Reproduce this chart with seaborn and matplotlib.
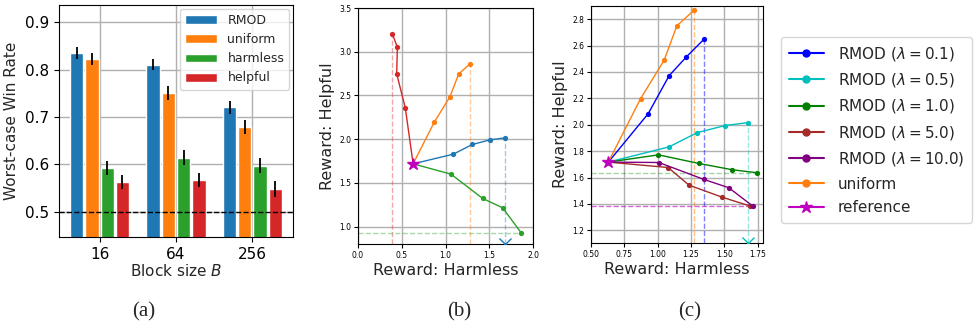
import numpy as np
import pandas as pd
import matplotlib
matplotlib.use('Agg')
import matplotlib.pyplot as plt
import seaborn as sns

# ---- panel (a): worst-case win rate per block size ----
block_sizes = ['16', '64', '256']
methods = ['RMOD', 'uniform', 'harmless', 'helpful']
win_rate = {
    'RMOD':     [0.835, 0.810, 0.720],
    'uniform':  [0.822, 0.751, 0.679],
    'harmless': [0.593, 0.614, 0.597],
    'helpful':  [0.563, 0.567, 0.548],
}
win_err = {
    'RMOD':     [0.012, 0.012, 0.014],
    'uniform':  [0.012, 0.015, 0.014],
    'harmless': [0.015, 0.016, 0.016],
    'helpful':  [0.015, 0.015, 0.016],
}

# ---- panel (b): reward trade-off per weighting ----
ref_harmless = 0.63
ref_helpful = 1.717
b_helpful_x = [0.541, 0.442, 0.450, 0.392]
b_helpful_y = [2.355, 2.748, 3.050, 3.206]
b_uniform_x = [0.872, 1.051, 1.150, 1.280]
b_uniform_y = [2.195, 2.485, 2.744, 2.862]
b_rmod_x = [1.090, 1.307, 1.512, 1.684]
b_rmod_y = [1.828, 1.939, 1.992, 2.015]
b_harmless_x = [1.063, 1.425, 1.653, 1.863]
b_harmless_y = [1.599, 1.321, 1.214, 0.931]

# ---- panel (c): RMOD with different lambda ----
c_uniform_x = [0.872, 1.049, 1.144, 1.273]
c_uniform_y = [2.198, 2.490, 2.750, 2.868]
c_l01_x = [0.929, 1.086, 1.216, 1.348]
c_l01_y = [2.084, 2.372, 2.515, 2.649]
c_l05_x = [1.084, 1.298, 1.505, 1.675]
c_l05_y = [1.832, 1.941, 1.994, 2.016]
c_l1_x = [1.006, 1.308, 1.560, 1.748]
c_l1_y = [1.772, 1.707, 1.659, 1.636]
c_l5_x = [1.079, 1.234, 1.481, 1.693]
c_l5_y = [1.676, 1.543, 1.452, 1.384]
c_l10_x = [1.009, 1.346, 1.533, 1.713]
c_l10_y = [1.714, 1.586, 1.523, 1.384]

sns.set_style('ticks', {'axes.edgecolor': 'black', 'xtick.color': 'black',
                        'ytick.color': 'black', 'grid.color': '#b0b0b0'})
plt.rcParams['font.family'] = ['DejaVu Sans']

fig = plt.figure(figsize=(9.8, 3.28), dpi=100)
W, H = 980, 328


def add_ax(x0, y0, x1, y1):
    return fig.add_axes([x0 / W, 1 - y1 / H, (x1 - x0) / W, (y1 - y0) / H])


tab = sns.color_palette('tab10')

# ---------------- (a) ----------------
ax = add_ax(59, 5, 293, 237)
rows = []
for m in methods:
    for b, v in zip(block_sizes, win_rate[m]):
        rows.append({'block': b, 'method': m, 'rate': v})
df_a = pd.DataFrame(rows)
sns.barplot(data=df_a, x='block', y='rate', hue='method', order=block_sizes,
            hue_order=methods, palette=tab[:4], width=0.8, gap=0.13,
            saturation=1, errorbar=None, ax=ax, zorder=2)
offsets = (np.arange(len(methods)) - 1.5) * 0.2
for j, m in enumerate(methods):
    ax.errorbar(np.arange(len(block_sizes)) + offsets[j], win_rate[m],
                yerr=win_err[m], fmt='none', ecolor='black', elinewidth=1.3,
                capsize=0, zorder=3)
ax.axhline(0.5, color='black', linestyle='--', linewidth=1, zorder=3)
ax.set_ylim(0.447, 0.936)
ax.set_xlim(-0.53, 2.53)
ax.set_yticks([0.5, 0.6, 0.7, 0.8, 0.9])
ax.grid(True, linewidth=1, zorder=0)
ax.set_axisbelow(True)
ax.tick_params(labelsize=11)
ax.set_xlabel('Block size $B$', fontsize=11, labelpad=1)
ax.set_ylabel('Worst-case Win Rate', fontsize=11)
ax.legend(loc='upper right', fontsize=9, handlelength=2.6, borderaxespad=0.3)

# ---------------- (b) ----------------
ax = add_ax(358, 8, 533, 244)
ax.set_xlim(0, 2.0)
ax.set_ylim(0.8, 3.5)
lw, ms = 1.0, 3.8
series_b = [(b_helpful_x, b_helpful_y, tab[3]), (b_uniform_x, b_uniform_y, tab[1]),
            (b_rmod_x, b_rmod_y, tab[0]), (b_harmless_x, b_harmless_y, tab[2])]
for xs, ys, col in series_b:
    sns.lineplot(x=[ref_harmless] + xs, y=[ref_helpful] + ys, sort=False,
                 estimator=None, color=col, marker='o', markersize=ms,
                 markeredgewidth=0, linewidth=lw, ax=ax, zorder=3)
ax.plot([ref_harmless], [ref_helpful], marker='*', color='m', markersize=9,
        zorder=5)
# worst-case guide lines
ax.vlines(min(b_helpful_x), 0.8, b_helpful_y[int(np.argmin(b_helpful_x))],
          colors=[tab[3]], linestyles='--', alpha=0.4, linewidth=1)
ax.vlines(max(b_uniform_x), 0.8, b_uniform_y[int(np.argmax(b_uniform_x))],
          colors=[tab[1]], linestyles='--', alpha=0.4, linewidth=1)
ax.vlines(max(b_rmod_x), 0.8, b_rmod_y[int(np.argmax(b_rmod_x))],
          colors=[tab[0]], linestyles='--', alpha=0.4, linewidth=1)
ax.hlines(min(b_harmless_y), 0, b_harmless_x[int(np.argmin(b_harmless_y))],
          colors=[tab[2]], linestyles='--', alpha=0.4, linewidth=1)
ax.plot([max(b_rmod_x)], [0.8], marker='x', color=tab[0], markersize=8,
        clip_on=True, zorder=4)
ax.set_xticks([0.0, 0.5, 1.0, 1.5, 2.0])
ax.set_yticks([1.0, 1.5, 2.0, 2.5, 3.0, 3.5])
ax.grid(True, linewidth=1)
ax.set_axisbelow(True)
ax.tick_params(labelsize=5.5, length=3, pad=2)
ax.set_xlabel('Reward: Harmless', fontsize=11.5, labelpad=2)
ax.set_ylabel('Reward: Helpful', fontsize=11.5, labelpad=3)

# ---------------- (c) ----------------
ax = add_ax(591, 6, 763, 243)
ax.set_xlim(0.5, 1.79)
ax.set_ylim(1.104, 2.9)
series_c = [
    (c_l01_x, c_l01_y, 'blue', r'RMOD ($\lambda=0.1$)'),
    (c_l05_x, c_l05_y, 'c', r'RMOD ($\lambda=0.5$)'),
    (c_l1_x, c_l1_y, 'green', r'RMOD ($\lambda=1.0$)'),
    (c_l5_x, c_l5_y, 'brown', r'RMOD ($\lambda=5.0$)'),
    (c_l10_x, c_l10_y, 'purple', r'RMOD ($\lambda=10.0$)'),
    (c_uniform_x, c_uniform_y, tab[1], 'uniform'),
]
handles = []
for xs, ys, col, lab in series_c:
    sns.lineplot(x=[ref_harmless] + xs, y=[ref_helpful] + ys, sort=False,
                 estimator=None, color=col, marker='o', markersize=ms,
                 markeredgewidth=0, linewidth=lw, ax=ax, zorder=3)
    handles.append(plt.Line2D([], [], color=col, marker='o', markersize=5,
                              linewidth=1.5, label=lab))
ax.plot([ref_harmless], [ref_helpful], marker='*', color='m', markersize=9,
        zorder=5)
handles.append(plt.Line2D([], [], color='m', marker='*', markersize=9,
                          linewidth=1.5, label='reference'))
ax.vlines(max(c_uniform_x), 1.104, c_uniform_y[int(np.argmax(c_uniform_x))],
          colors=[tab[1]], linestyles='--', alpha=0.5, linewidth=1)
ax.vlines(max(c_l01_x), 1.104, c_l01_y[int(np.argmax(c_l01_x))],
          colors=['blue'], linestyles='--', alpha=0.5, linewidth=1)
ax.vlines(max(c_l05_x), 1.104, c_l05_y[int(np.argmax(c_l05_x))],
          colors=['c'], linestyles='--', alpha=0.4, linewidth=1)
ax.hlines(min(c_l1_y), 0.5, c_l1_x[int(np.argmin(c_l1_y))],
          colors=['green'], linestyles='--', alpha=0.35, linewidth=1)
ax.hlines(min(c_l5_y), 0.5, c_l5_x[int(np.argmin(c_l5_y))],
          colors=['m'], linestyles='--', alpha=0.6, linewidth=1)
ax.plot([max(c_l05_x)], [1.104], marker='x', color='c', markersize=8,
        clip_on=True, zorder=4)
ax.set_xticks([0.5, 0.75, 1.0, 1.25, 1.5, 1.75])
ax.set_yticks([1.2, 1.4, 1.6, 1.8, 2.0, 2.2, 2.4, 2.6, 2.8])
ax.grid(True, linewidth=1)
ax.set_axisbelow(True)
ax.tick_params(labelsize=5.5, length=3, pad=2)
ax.set_xlabel('Reward: Harmless', fontsize=11.5, labelpad=2)
ax.set_ylabel('Reward: Helpful', fontsize=11.5, labelpad=3)

fig.legend(handles=handles, loc='upper left', bbox_to_anchor=(781 / W, 1 - 37 / H),
           fontsize=11, handlelength=2.3, borderaxespad=0, labelspacing=0.55,
           handletextpad=0.9, borderpad=0.5)

# captions
for lab, xc in [('(a)', 144), ('(b)', 459), ('(c)', 690)]:
    fig.text(xc / W, 1 - 312 / H, lab, ha='center', va='center',
             fontsize=15, family='Liberation Serif')

fig.savefig('out.png', dpi=100)
